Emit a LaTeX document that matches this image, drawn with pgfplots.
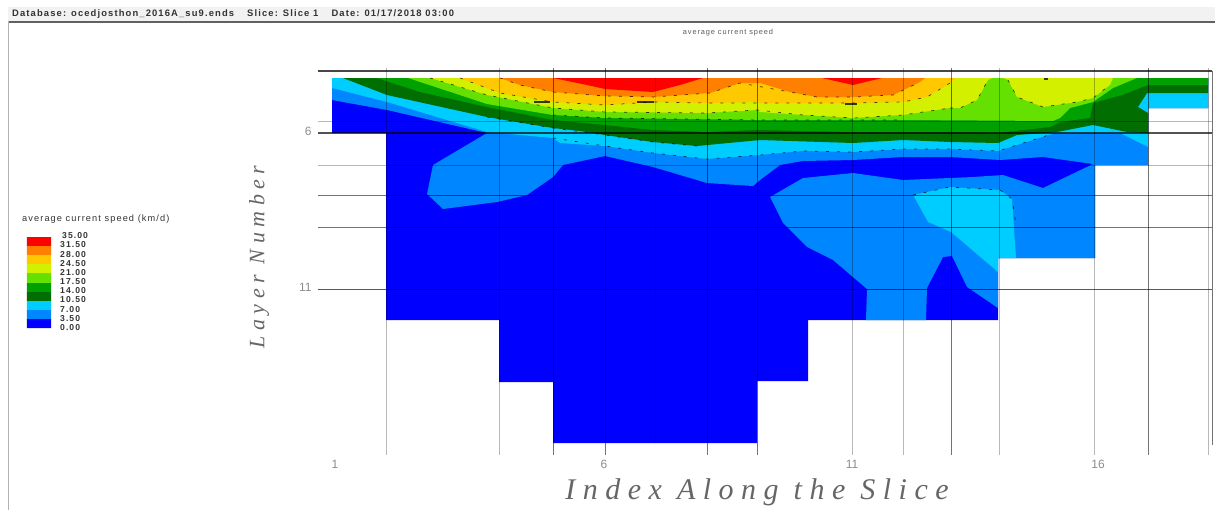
\documentclass[border=0pt]{standalone}
\usepackage{fontspec}
\setmainfont{Liberation Sans}
\newfontfamily\hersh[LetterSpace=25]{Liberation Serif}
\newfontfamily\hdr[LetterSpace=12]{Liberation Sans}
\usepackage{pgfplots}
\pgfplotsset{compat=1.18}
\definecolor{c00}{RGB}{0,0,255}
\definecolor{c35}{RGB}{0,134,255}
\definecolor{c70}{RGB}{0,205,255}
\definecolor{c105}{RGB}{0,110,0}
\definecolor{c14}{RGB}{0,160,0}
\definecolor{c175}{RGB}{100,225,0}
\definecolor{c21}{RGB}{210,240,0}
\definecolor{c245}{RGB}{255,200,0}
\definecolor{c28}{RGB}{255,128,0}
\definecolor{c315}{RGB}{255,0,0}
\tikzset{
  band/.style={fill=#1,draw=none},
  dk/.style={black,opacity=0.55,line width=0.95pt},
  lt/.style={black,opacity=0.28,line width=1pt},
  ctr/.style={black,opacity=0.7,line width=0.7pt,dash pattern=on 3pt off 8pt},
  speck/.style={black,opacity=0.75,line width=1.8pt},
  key/.style={font=\fontsize{8.6}{9}\selectfont\hdr\bfseries,text=black!80,anchor=west,inner sep=0pt},
}
\begin{document}
\begin{tikzpicture}[x=1pt,y=1pt]
\path[use as bounding box] (0,0) rectangle (1215,-510);
% window frame
\fill[black!5] (8,-7) rectangle (1215,-21);
\fill[black!62] (8,-21) rectangle (1215,-23);
\fill[black!30] (7.5,-21) rectangle (9,-510);
\node[anchor=west,inner sep=0pt,font=\fontsize{9.4}{11}\selectfont\hdr\bfseries,text=black!80] at (12,-14) {Database: ocedjosthon\_2016A\_su9.ends \quad Slice: Slice 1 \quad Date: 01/17/2018 03:00};
\node[inner sep=0pt,font=\fontsize{7.4}{8}\selectfont\hdr,text=black!65] at (728,-33) {average current speed};
\node[anchor=west,inner sep=0pt,font=\fontsize{9.2}{10}\selectfont\hdr,text=black!80] at (22,-219) {average current speed (km/d)};
\begin{axis}[
  at={(318pt,-455pt)},anchor=south west,
  scale only axis,width=894pt,height=387pt,
  xmin=318,xmax=1212,ymin=68,ymax=455,y dir=reverse,
  clip=false,
  axis line style={draw=none},
  major tick length=0pt,
  xtick={335,604,852,1098},xticklabels={1,6,11,16},
  ytick={65,131,287},yticklabels={1,6,11},
  /pgf/number format/assume math mode=true,
  xticklabel style={font=\fontsize{12}{13}\selectfont,text=black!45,yshift=-2pt},
  yticklabel style={font=\fontsize{12}{13}\selectfont,text=black!45,xshift=-3pt},
]
% outline: everything is at least 0.00
\addplot[band=c00] coordinates {(332,78)(1208,78)(1208,108)(1148,108)(1148,165)(1095,165)(1095,258)(998,258)(998,320)(808,320)(808,381)(757,381)(757,443)(553,443)(553,382)(499,382)(499,320)(386,320)(386,133)(332,133)(332,78)};
% 3.50
\addplot[band=c35] coordinates {(332,78)(1208,78)(1208,108)(1148,108)(1148,165)(1095,165)(1095,258)(998,258)(998,308)(967,287)(952,256)(943,257)(927,288)(926,320)(866,320)(867,289)(833,260)(807,247)(783,223)(770,197)(803,178)(853,173)(903,180)(973,177)(1003,175)(1043,188)(1093,164)(1043,157)(1000,160)(950,157)(903,157)(853,160)(803,161)(780,165)(760,180)(753,186)(707,183)(653,167)(605,156)(563,165)(553,177)(527,195)(497,202)(443,209)(427,194)(433,165)(487,133)(387,110)(332,100)(332,78)};
% 7.00 (band)
\addplot[band=c70] coordinates {(332,78)(1208,78)(1208,108)(1148,108)(1148,147)(1120,133)(1055,133)(998,151)(950,149)(903,149)(853,152)(803,151)(760,155)(707,159)(653,153)(605,146)(560,143)(553,138)(487,132)(387,102)(332,88)(332,78)};
% 7.00 (pocket)
\addplot[band=c70] coordinates {(913,195)(950,187)(1000,190)(1012,199)(1016,258)(998,258)(998,272)(951,232)(928,222)(913,195)};
% 10.50
\addplot[band=c105] coordinates {(343,78)(1208,78)(1208,93)(1147,93)(1138,107)(1148,113)(1148,133)(1127,132)(1093,125)(1057,132)(1017,135)(998,143)(950,142)(903,140)(853,143)(760,140)(697,146)(653,142)(605,135)(580,131)(553,128)(487,117)(387,95)(343,78)};
% 14.00
\addplot[band=c14] coordinates {(377,78)(1208,78)(1208,85)(1148,85)(1122,95)(1093,103)(1090,118)(1060,122)(1050,127)(998,133)(950,132)(903,132)(853,132)(757,130)(707,132)(653,130)(605,125)(553,120)(487,107)(420,92)(377,78)};
% 17.50
\addplot[band=c175] coordinates {(408,78)(1137,78)(1113,88)(1093,102)(1070,108)(1060,118)(1053,121)(903,120)(760,120)(605,118)(553,115)(487,104)(408,78)};
% 21.00
\addplot[band=c21] coordinates {(430,78)(992,78)(988,80)(977,100)(960,108)(950,108)(903,115)(853,118)(803,115)(760,112)(757,110)(707,113)(605,112)(553,108)(487,95)(430,78)};
\addplot[band=c21] coordinates {(1003,78)(1113,78)(1110,85)(1093,98)(1077,102)(1043,107)(1017,97)(1008,80)(1003,78)};
% 24.50
\addplot[band=c245] coordinates {(460,78)(955,78)(950,83)(927,97)(903,102)(850,103)(803,103)(760,103)(757,102)(707,103)(653,102)(605,105)(553,102)(500,93)(460,78)};
% 28.00
\addplot[band=c28] coordinates {(500,78)(925,78)(920,82)(893,95)(853,97)(817,97)(790,92)(760,83)(740,83)(710,93)(653,97)(605,96)(553,92)(520,85)(500,78)};
% 31.50
\addplot[band=c315] coordinates {(553,78)(703,78)(680,85)(653,92)(605,89)(587,85)(553,78)};
\addplot[band=c315] coordinates {(822,78)(882,78)(853,85)(822,78)};
% dashed contour lines
\addplot[ctr] coordinates {(430,78)(487,95)(553,108)(605,112)(707,113)(757,110)(803,115)(853,118)(903,115)(950,108)};
\addplot[ctr] coordinates {(460,78)(500,93)(553,102)(605,105)(653,102)(707,103)(760,103)(850,103)(903,102)(927,97)(950,83)};
\addplot[ctr] coordinates {(500,78)(520,85)(553,92)(605,96)(653,97)(710,93)(740,83)(790,92)(817,97)(853,97)(893,95)(920,82)};
\addplot[ctr] coordinates {(553,115)(605,118)(760,120)(903,120)};
\addplot[ctr] coordinates {(950,108)(960,108)(977,100)(988,80)};
\addplot[ctr] coordinates {(1008,80)(1017,97)(1043,107)(1077,102)(1093,98)(1110,85)};
\addplot[ctr] coordinates {(487,117)(553,128)(605,135)(653,142)(697,146)};
\addplot[ctr] coordinates {(553,138)(605,146)(653,153)(707,159)(760,155)(803,151)(853,152)(903,149)(950,149)(998,151)(1055,133)};
\addplot[ctr] coordinates {(913,195)(950,187)(1000,190)(1012,199)(1016,225)};
\addplot[speck] coordinates {(534,102)(550,102)};
\addplot[speck] coordinates {(637,102)(654,102)};
\addplot[speck] coordinates {(845,104)(857,104)};
\addplot[speck] coordinates {(1044,79)(1048,79)};
% vertical grid lines
\addplot[lt] coordinates {(386,68)(386,455)};
\addplot[lt] coordinates {(499,68)(499,455)};
\addplot[dk] coordinates {(553,68)(553,455)};
\addplot[dk] coordinates {(605,68)(605,455)};
\addplot[black,opacity=0.15,line width=0.8pt] coordinates {(655,78)(655,443)};
\addplot[dk] coordinates {(707,68)(707,455)};
\addplot[dk] coordinates {(757,68)(757,455)};
\addplot[lt] coordinates {(852,68)(852,455)};
\addplot[lt] coordinates {(903,68)(903,455)};
\addplot[dk] coordinates {(951,68)(951,455)};
\addplot[lt] coordinates {(999,68)(999,455)};
\addplot[lt] coordinates {(1094,68)(1094,455)};
\addplot[dk] coordinates {(1148,68)(1148,455)};
\addplot[lt] coordinates {(1208,68)(1208,455)};
\addplot[dk] coordinates {(1212,71)(1212,445)};
% horizontal grid lines
\addplot[black,opacity=0.72,line width=1.3pt] coordinates {(318,71)(1212,71)};
\addplot[lt] coordinates {(318,121)(1212,121)};
\addplot[black,opacity=0.68,line width=1.1pt] coordinates {(318,133)(1212,133)};
\addplot[lt] coordinates {(318,165)(1212,165)};
\addplot[dk] coordinates {(318,195)(1212,195)};
\addplot[dk] coordinates {(318,227)(1212,227)};
\addplot[black,opacity=0.65,line width=1pt] coordinates {(318,289)(1212,289)};
% colour key
\addplot[band=c315] coordinates {(27,237)(51,237)(51,246)(27,246)(27,237)};
\addplot[band=c28] coordinates {(27,246)(51,246)(51,255)(27,255)(27,246)};
\addplot[band=c245] coordinates {(27,255)(51,255)(51,264)(27,264)(27,255)};
\addplot[band=c21] coordinates {(27,264)(51,264)(51,273)(27,273)(27,264)};
\addplot[band=c175] coordinates {(27,273)(51,273)(51,283)(27,283)(27,273)};
\addplot[band=c14] coordinates {(27,283)(51,283)(51,292)(27,292)(27,283)};
\addplot[band=c105] coordinates {(27,292)(51,292)(51,301)(27,301)(27,292)};
\addplot[band=c70] coordinates {(27,301)(51,301)(51,310)(27,310)(27,301)};
\addplot[band=c35] coordinates {(27,310)(51,310)(51,319)(27,319)(27,310)};
\addplot[band=c00] coordinates {(27,319)(51,319)(51,328)(27,328)(27,319)};
\node[key] at (axis cs:62,236) {35.00};
\node[key] at (axis cs:60,245) {31.50};
\node[key] at (axis cs:60,254.5) {28.00};
\node[key] at (axis cs:60,263.5) {24.50};
\node[key] at (axis cs:60,273) {21.00};
\node[key] at (axis cs:60,281.5) {17.50};
\node[key] at (axis cs:60,291) {14.00};
\node[key] at (axis cs:60,300) {10.50};
\node[key] at (axis cs:60,309.5) {7.00};
\node[key] at (axis cs:60,319) {3.50};
\node[key] at (axis cs:60,328) {0.00};
% axis titles
\node[font=\fontsize{30}{32}\selectfont\hersh\itshape,text=black!60,inner sep=0pt] at (axis cs:757,492) {Index Along the Slice};
\node[font=\fontsize{22}{24}\selectfont\hersh\itshape,text=black!60,inner sep=0pt,rotate=90] at (axis cs:259,257) {Layer Number};
\end{axis}
\end{tikzpicture}
\end{document}
